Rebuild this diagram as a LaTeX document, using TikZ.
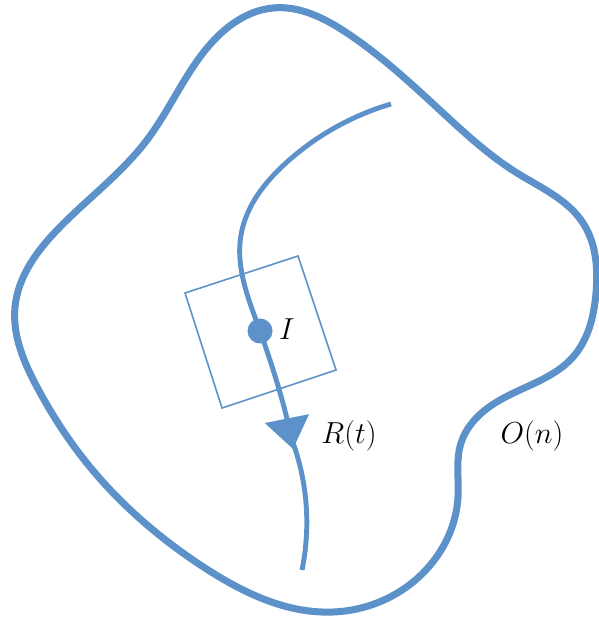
\documentclass[tikz,border=0pt]{standalone}
\usetikzlibrary{arrows.meta, hobby}
\definecolor{curveblue}{RGB}{92,146,201}
\begin{document}
\begin{tikzpicture} [x = 0.02cm, y = -0.02cm, font = \fontsize{16pt}{19pt}\selectfont]
	\useasboundingbox (0,0) rectangle (598,617);
	\draw[curveblue, line width = 4pt, use Hobby shortcut, closed = true] (273,8) .. (347,33) .. (443,113) .. (517,173) .. (583,223) .. (596,293) .. (573,357) .. (500,400) .. (461,443) .. (458,497) .. (423,573) .. (333,612) .. (205,568) .. (90,467) .. (37,387) .. (15,307) .. (60,227) .. (147,140) .. (203,53);
	\draw[curveblue, line width = 2.8pt, use Hobby shortcut, -{Triangle[length = 0.62cm, width = 0.88cm]}] (391,104) .. (287,162) .. (241,235) .. (260,331) .. (293,449);
	\draw[curveblue, line width = 2.8pt, use Hobby shortcut] (292,440) .. (306,503) .. (302,570);
	\draw[curveblue, line width = 0.9pt] (185,293) -- (298,256) -- (336,370) -- (222,408) -- cycle;
	\fill[curveblue] (260,331) circle [radius = 12.5];
	\node [anchor = west] (labI) at (273,329) {$I$};
	\node (labR) at (349,436) {$R(t)$};
	\node (labO) at (532,436) {$O(n)$};
\end{tikzpicture}
\end{document}
